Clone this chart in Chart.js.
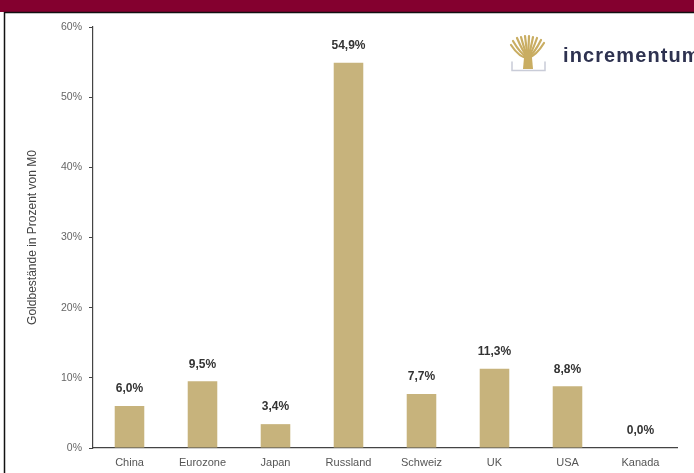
<!DOCTYPE html>
<html>
<head>
<meta charset="utf-8">
<script src="https://cdn.jsdelivr.net/npm/chart.js@4/dist/chart.umd.min.js"></script>
<style>
  html, body { margin: 0; padding: 0; background: #fff; overflow: hidden; }
  #wrap { position: relative; width: 694px; height: 473px; overflow: hidden; }
  #myChart { position: absolute; left: 0; top: 0; }
  #brand {
    position: absolute; left: 563px; top: 44px; line-height: 20px;
    font: bold 20px "Liberation Sans", Arial, sans-serif; color: #2e3250;
    white-space: nowrap; letter-spacing: 1.1px;
  }
</style>
</head>
<body>
<div id="wrap">
  <canvas id="myChart" width="694" height="473"></canvas>
  <div id="brand">incrementum</div>
</div>
<script>
const countries = ['China', 'Eurozone', 'Japan', 'Russland', 'Schweiz', 'UK', 'USA', 'Kanada'];
const goldShare = [6.0, 9.5, 3.4, 54.9, 7.7, 11.3, 8.8, 0.0];
const yTicks = [0, 10, 20, 30, 40, 50, 60];

const barColor = '#c7b37c';
const fontFamily = '"Liberation Sans", Arial, sans-serif';

function germanPercent(value) {
  return value.toFixed(1).replace('.', ',') + '%';
}

// maroon band, frame and the logo icon
const framePlugin = {
  id: 'frame',
  beforeDraw(chart) {
    const { ctx } = chart;
    ctx.save();
    ctx.fillStyle = '#84002f';
    ctx.fillRect(0, 0, chart.width, 12);
    ctx.strokeStyle = '#111';
    ctx.lineWidth = 1.5;
    ctx.beginPath();
    ctx.moveTo(4.5, chart.height);
    ctx.lineTo(4.5, 12.5);
    ctx.lineTo(chart.width, 12.5);
    ctx.stroke();

    // tree icon
    ctx.strokeStyle = '#c9ad62';
    ctx.lineCap = 'round';
    ctx.lineWidth = 2.2;
    const tops = [[511, 45], [513, 41], [517, 38], [521, 37], [525, 36], [529, 36], [533, 37], [537, 38], [541, 40], [544, 43]];
    tops.forEach(([x, y]) => {
      ctx.beginPath();
      ctx.moveTo(528, 58);
      ctx.quadraticCurveTo((x + 528) / 2, y + 13, x, y);
      ctx.stroke();
    });
    ctx.fillStyle = '#c9ad62';
    ctx.beginPath();
    ctx.moveTo(524.5, 52);
    ctx.lineTo(531.5, 52);
    ctx.lineTo(533, 69);
    ctx.lineTo(523, 69);
    ctx.closePath();
    ctx.fill();
    ctx.strokeStyle = '#c9ccd8';
    ctx.lineWidth = 1.5;
    ctx.beginPath();
    ctx.moveTo(512, 62);
    ctx.lineTo(512, 70.5);
    ctx.lineTo(545, 70.5);
    ctx.lineTo(545, 62);
    ctx.stroke();
    ctx.restore();
  },
};

// value labels above the bars
const valueLabels = {
  id: 'valueLabels',
  afterDatasetsDraw(chart) {
    const { ctx } = chart;
    const meta = chart.getDatasetMeta(0);
    ctx.save();
    ctx.font = 'bold 12px ' + fontFamily;
    ctx.fillStyle = '#333';
    ctx.textAlign = 'center';
    ctx.textBaseline = 'bottom';
    meta.data.forEach((bar, i) => {
      ctx.fillText(germanPercent(goldShare[i]), bar.x, bar.y - 11);
    });
    ctx.restore();
  },
};

new Chart(document.querySelector('#myChart'), {
  type: 'bar',
  data: {
    labels: countries,
    datasets: [
      {
        data: goldShare,
        backgroundColor: barColor,
        barPercentage: 0.405,
        categoryPercentage: 1,
      },
    ],
  },
  options: {
    responsive: false,
    animation: false,
    events: [],
    layout: {
      padding: { top: 27, right: 17, bottom: 0, left: 0 },
    },
    scales: {
      x: {
        afterFit(scale) { scale.height = 25; },
        grid: { display: false, drawTicks: false },
        border: { display: true, color: '#444', width: 1.2 },
        ticks: {
          padding: 8,
          color: '#555',
          font: { family: fontFamily, size: 11 },
          maxRotation: 0,
        },
      },
      y: {
        min: 0,
        max: 60,
        afterFit(scale) { scale.width = 93; },
        afterBuildTicks(scale) { scale.ticks = yTicks.map(value => ({ value })); },
        grid: { drawOnChartArea: false, tickLength: 4, color: '#444' },
        border: { display: true, color: '#444', width: 1.2 },
        ticks: {
          padding: 7,
          color: '#666',
          font: { family: fontFamily, size: 10.5 },
          callback: value => value + '%',
        },
        title: {
          display: true,
          text: 'Goldbestände in Prozent von M0',
          color: '#444',
          font: { family: fontFamily, size: 12 },
          padding: { top: 25, bottom: 0 },
        },
      },
    },
    plugins: {
      legend: { display: false },
      tooltip: { enabled: false },
    },
  },
  plugins: [framePlugin, valueLabels],
});
</script>
</body>
</html>
